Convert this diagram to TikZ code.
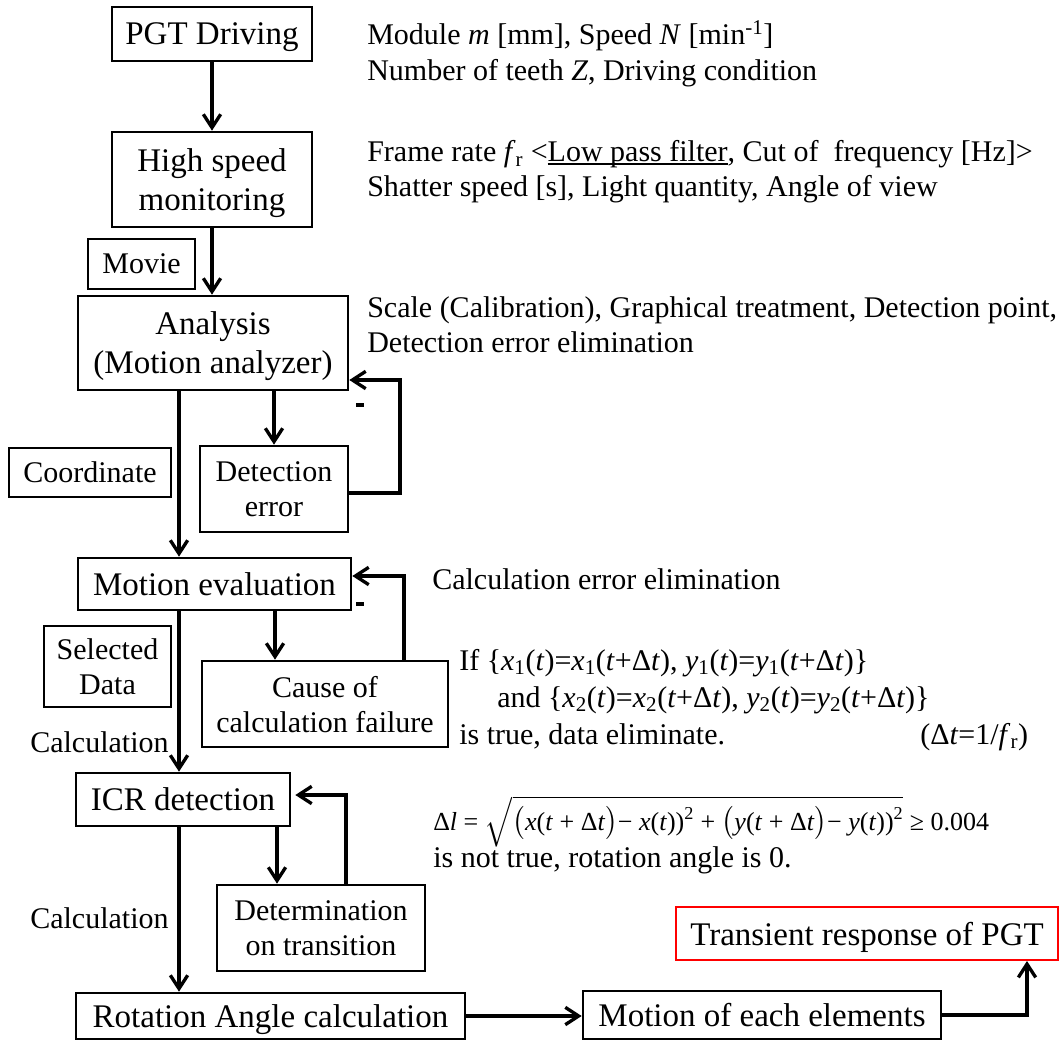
\documentclass[tikz,border=0pt]{standalone}
\usepackage{fontspec}
\usepackage{amsmath}
\setmainfont{Liberation Serif}
\usetikzlibrary{arrows.meta}
\newcommand\bigfont{\fontsize{24.75pt}{29.25pt}\selectfont}
\newcommand\smfont{\fontsize{22.5pt}{26.25pt}\selectfont}
\newcommand\eqfont{\fontsize{19.5pt}{23pt}\selectfont}
% underline that sits just under the baseline
\newcommand\lowul[1]{\setbox0\hbox{#1}\rlap{\rule[-0.1em]{\wd0}{0.05em}}\box0}
\begin{document}
\begin{tikzpicture}[x=0.75pt,y=-0.75pt,
  box/.style={draw, line width=2pt, inner sep=0pt, align=center, font=\bigfont, text depth=0pt},
  sbox/.style={box, font=\smfont},
  arr/.style={line width=2.5pt, line join=miter,
    -{Straight Barb[length=10pt,width=13pt,line width=2.5pt]}},
  note/.style={anchor=base west, inner sep=0pt, font=\smfont},
  minus/.style={inner sep=0pt},
]
\useasboundingbox (0,0) rectangle (1060,1041);

% main chain
\node[box, minimum width=150pt, minimum height=40.5pt] (drv) at (212,34) {PGT Driving};
\node[box, minimum width=150pt, minimum height=71.25pt] (hsm) at (212,179.5) {High speed\\monitoring};
\node[sbox, minimum width=80.25pt, minimum height=37.5pt] (movie) at (141.5,264) {Movie};
\node[box, minimum width=202.5pt, minimum height=70.5pt] (ana) at (213,343) {Analysis\\(Motion analyzer)};
\node[sbox, minimum width=121.5pt, minimum height=36.75pt] (coord) at (90,472.5) {Coordinate};
\node[sbox, minimum width=111pt, minimum height=64.5pt] (deterr) at (274,489) {Detection\\error};
\node[box, minimum width=204.75pt, minimum height=39pt] (meval) at (214.5,584) {Motion evaluation};
\node[sbox, minimum width=95.25pt, minimum height=60.75pt] (seldata) at (107.5,666.5) {Selected\\Data};
\node[sbox, minimum width=184.5pt, minimum height=64.5pt] (cause) at (325,704) {Cause of\\calculation failure};
\node[box, minimum width=160.5pt, minimum height=39.75pt] (icr) at (183,799.5) {ICR detection};
\node[sbox, minimum width=156pt, minimum height=64.5pt] (det) at (321,928) {Determination\\on transition};
\node[box, minimum width=291.75pt, minimum height=34.5pt] (rot) at (270.5,1016) {Rotation Angle calculation};
\node[box, minimum width=268.5pt, minimum height=36pt] (moe) at (762,1015) {Motion of each elements};
\node[box, draw=red, line width=1.5pt, minimum width=286.5pt, minimum height=39.75pt] (trans) at (867,933.5) {Transient response of PGT};

% labels beside the main flow
\node[note] (calc1) at (30,752) {Calculation};
\node[note] (calc2) at (30,928) {Calculation};
\node[minus] (m1) at (360,405) {\rule{6pt}{3pt}};
\node[minus] (m2) at (360,604) {\rule{6pt}{3pt}};

% connectors
\coordinate (xm) at (179,0);
\coordinate (xc) at (275,0);
\coordinate (xd) at (277,0);
\coordinate (xt) at (1027,0);
\coordinate (fa2) at (400,493);
\coordinate (fa) at (400,380);
\coordinate (fb) at (404,576);
\coordinate (fc) at (346,795);

\draw[arr] (drv.south) -- (hsm.north);
\draw[arr] (hsm.south) -- (hsm.south |- ana.north);
\draw[arr] (ana.south -| xm) -- (meval.north -| xm);
\draw[arr] (deterr.north |- ana.south) -- (deterr.north);
\draw[arr] (deterr.east |- fa2) -- (fa2) -- (fa) -- (fa -| ana.east);
\draw[arr] (meval.south -| xm) -- (icr.north -| xm);
\draw[arr] (meval.south -| xc) -- (cause.north -| xc);
\draw[arr] (cause.north -| fb) -- (fb) -- (fb -| meval.east);
\draw[arr] (icr.south -| xm) -- (rot.north -| xm);
\draw[arr] (icr.south -| xd) -- (det.north -| xd);
\draw[arr, shorten >=3pt] (det.north -| fc) -- (fc) -- (fc -| icr.east);
\draw[arr] (rot.east) -- (rot.east -| moe.west);
\draw[arr] (moe.east) -| (trans.south -| xt);

% side notes
\node[note] (n1) at (367,45) {Module \textit{m} [mm], Speed \textit{N} [min\textsuperscript{-1}]};
\node[note] (n2) at (367,81) {Number of teeth \textit{Z}, Driving condition};
\node[note] (n3) at (367,162) {Frame rate \textit{f}\textsubscript{r} <\lowul{Low pass filter}, Cut of~ frequency [Hz]>};
\node[note] (n4) at (367,197) {Shatter speed [s], Light quantity, Angle of view};
\node[note] (n5) at (367,317) {Scale (Calibration), Graphical treatment, Detection point,};
\node[note] (n6) at (367,352) {Detection error elimination};
\node[note] (n7) at (432,589) {Calculation error elimination};
\node[note] (n8) at (459,670) {If \{\textit{x}\textsubscript{1}(\textit{t})=\textit{x}\textsubscript{1}(\textit{t}+Δ\textit{t}), \textit{y}\textsubscript{1}(\textit{t})=\textit{y}\textsubscript{1}(\textit{t}+Δ\textit{t})\}};
\node[note] (n9) at (497,707) {and \{\textit{x}\textsubscript{2}(\textit{t})=\textit{x}\textsubscript{2}(\textit{t}+Δ\textit{t}), \textit{y}\textsubscript{2}(\textit{t})=\textit{y}\textsubscript{2}(\textit{t}+Δ\textit{t})\}};
\node[note] (n10) at (459,744) {is true, data eliminate.};
\node[note] (n11) at (920,744) {(Δ\textit{t}=1/\textit{f}\textsubscript{r})};
\node[note, font=\eqfont] (n12) at (433,830) {Δ\textit{l} = $\sqrt{\bigl(\mbox{\textit{x}(\textit{t} + Δ\textit{t}}\bigr)\mbox{− \textit{x}(\textit{t}))\textsuperscript{2} + }\bigl(\mbox{\textit{y}(\textit{t} + Δ\textit{t}}\bigr)\mbox{− \textit{y}(\textit{t}))\textsuperscript{2}}}$ ≥ 0.004};
\node[note] (n13) at (433,867) {is not true, rotation angle is 0.};
\end{tikzpicture}
\end{document}
